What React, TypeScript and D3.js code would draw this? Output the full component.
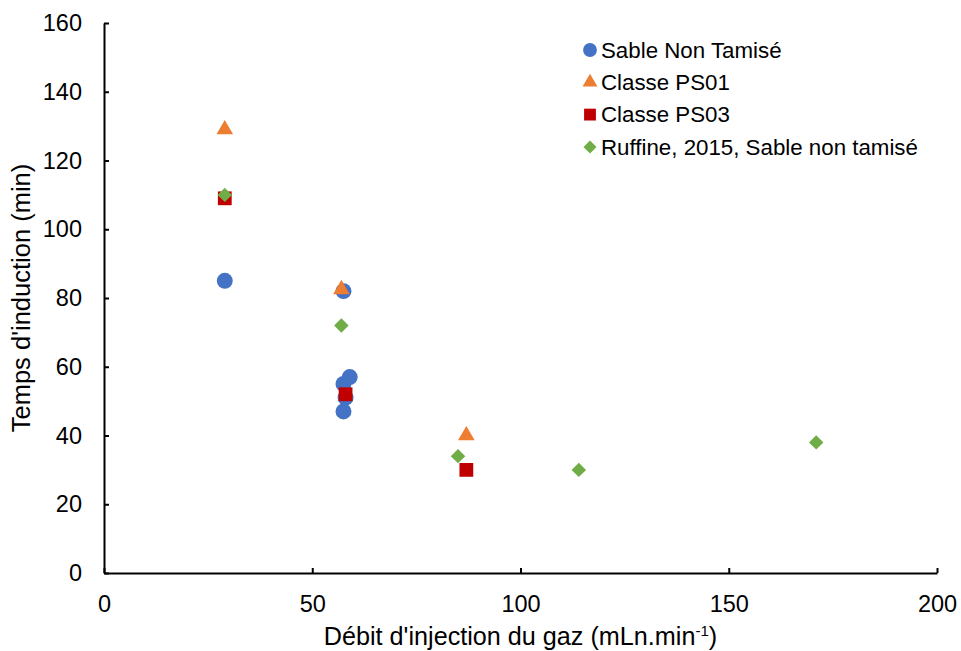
import React, { useRef, useEffect } from 'react';
import * as d3 from 'd3';

// Series data
const sableX = [29, 57.5, 57.5, 59, 58, 57.5];
const sableY = [85, 82, 55, 57, 51, 47];
const ps01X = [29, 57, 87];
const ps01Y = [129, 82.5, 40];
const ps03X = [29, 58, 87];
const ps03Y = [109, 52, 30];
const ruffineX = [29, 57, 85, 114, 171];
const ruffineY = [110, 72, 34, 30, 38];

const xTicks = [0, 50, 100, 150, 200];
const yTicks = [0, 20, 40, 60, 80, 100, 120, 140, 160];

const seriesNames = ['Sable Non Tamisé', 'Classe PS01', 'Classe PS03', 'Ruffine, 2015, Sable non tamisé'];
const seriesColors = ['#4472C4', '#ED7D31', '#C00000', '#70AD47'];

const FONT = 'Liberation Sans, Arial, sans-serif';

const ScatterChart = () => {
  const svgRef = useRef<SVGSVGElement>(null);

  useEffect(() => {
    if (!svgRef.current) return;
    const svg = d3.select(svgRef.current);
    svg.selectAll('*').remove();

    const left = 104, right = 937, top = 23, bottom = 573;

    const x = d3.scaleLinear().domain([0, 200]).range([left, right]);
    const y = d3.scaleLinear().domain([0, 160]).range([bottom, top]);

    // symbols per series (diamond = square turned 45deg)
    const symbols = [
      d3.symbol().type(d3.symbolCircle).size(200),
      d3.symbol().type(d3.symbolTriangle).size(120),
      d3.symbol().type(d3.symbolSquare).size(190),
      d3.symbol().type(d3.symbolSquare).size(105),
    ];
    const legendSymbols = [
      d3.symbol().type(d3.symbolCircle).size(150),
      d3.symbol().type(d3.symbolTriangle).size(95),
      d3.symbol().type(d3.symbolSquare).size(140),
      d3.symbol().type(d3.symbolSquare).size(85),
    ];
    const rot = [0, 0, 0, 45];

    // Axes
    const yAxis = d3.axisLeft(y).tickValues(yTicks).tickSizeInner(-5).tickSizeOuter(0).tickPadding(22);
    const gy = svg.append('g').attr('transform', `translate(${left},0)`).call(yAxis);
    gy.selectAll('text').style('font-family', FONT).style('font-size', '23.5px').style('fill', '#000');

    const xAxis = d3.axisBottom(x).tickValues(xTicks).tickSizeInner(-5).tickSizeOuter(0).tickPadding(22);
    const gx = svg.append('g').attr('transform', `translate(0,${bottom})`).call(xAxis);
    gx.selectAll('text').style('font-family', FONT).style('font-size', '23.5px').style('fill', '#000');

    svg.selectAll('.domain, .tick line').attr('stroke', '#000').attr('stroke-width', 2);

    // Axis titles
    svg.append('text')
      .attr('x', (left + right) / 2)
      .attr('y', 645)
      .attr('text-anchor', 'middle')
      .style('font-family', FONT)
      .style('font-size', '25.2px')
      .html("Débit d'injection du gaz (mLn.min<tspan dy='-9' font-size='15px'>-1</tspan><tspan dy='9'>)</tspan>");

    svg.append('text')
      .attr('transform', `translate(30,${(top + bottom) / 2}) rotate(-90)`)
      .attr('text-anchor', 'middle')
      .style('font-family', FONT)
      .style('font-size', '25.5px')
      .text("Temps d'induction (min)");

    // Points
    const series = [
      { xs: sableX, ys: sableY },
      { xs: ps01X, ys: ps01Y },
      { xs: ps03X, ys: ps03Y },
      { xs: ruffineX, ys: ruffineY },
    ];
    series.forEach((s, i) => {
      const pts = s.xs.map((v, j) => [v, s.ys[j]]);
      svg.append('g')
        .selectAll('path')
        .data(pts)
        .enter().append('path')
        .attr('d', symbols[i]() as string)
        .attr('transform', d => `translate(${x(d[0])},${y(d[1])}) rotate(${rot[i]})`)
        .attr('fill', seriesColors[i]);
    });

    // Legend
    const legend = svg.append('g').attr('transform', 'translate(590,50)');
    seriesNames.forEach((name, i) => {
      const row = legend.append('g').attr('transform', `translate(0,${i * 32.3})`);
      row.append('path').attr('d', legendSymbols[i]() as string)
        .attr('transform', `rotate(${rot[i]})`)
        .attr('fill', seriesColors[i]);
      row.append('text')
        .attr('x', 11)
        .attr('dy', '0.35em')
        .style('font-family', FONT)
        .style('font-size', '22.3px')
        .style('fill', '#000')
        .text(name);
    });
  }, []);

  return <svg ref={svgRef} width={961} height={651} style={{ display: 'block', background: '#fff' }} />;
};

const App = () => (
  <div style={{ position: 'absolute', left: 0, top: 0 }}>
    <ScatterChart />
  </div>
);

export default App;
